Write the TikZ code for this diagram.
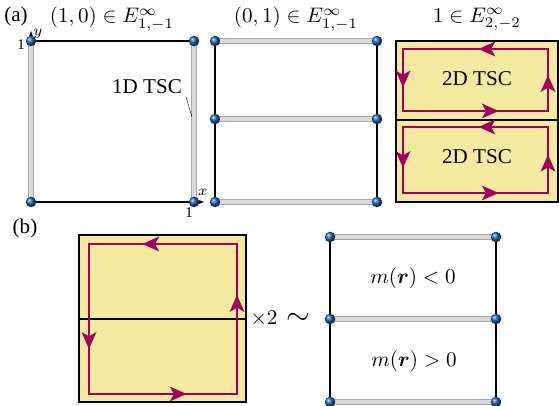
\documentclass[tikz,border=0pt]{standalone}
\usepackage{amsmath,amssymb,bm}
\usepackage{fontspec}
\setmainfont{Liberation Serif}
\usepackage{tikz}
\usetikzlibrary{arrows.meta,calc,positioning}
\definecolor{tscyellow}{RGB}{243,234,160}
\definecolor{edgepurple}{RGB}{160,0,95}
\definecolor{siteblue}{RGB}{20,90,165}

\begin{document}
\begin{tikzpicture}[x=0.0167cm,y=-0.0167cm,
    edge/.style={black, line width=0.75pt},
    tsc/.style={draw=gray!70, line width=0.5pt, double=gray!30, double distance=2.3pt},
    site/.style={circle, ball color=siteblue, inner sep=0pt, minimum size=5pt},
    sheet/.style={fill=tscyellow, draw=black, line width=0.75pt},
    loop/.style={draw=edgepurple, line width=0.9pt},
    flow/.style={draw=edgepurple, line width=0.9pt, -{Stealth[length=8pt,width=7pt,inset=2pt]}}]
        \useasboundingbox (0,0) rectangle (559,406);
        % titles
        \node (lbla) at (16,16) {(a)};
        \node (ttl1) at (112,19) {$(1,0)\in E^{\infty}_{1,-1}$};
        \node (ttl2) at (296,19) {$(0,1)\in E^{\infty}_{1,-1}$};
        \node (ttl3) at (477,19) {$1\in E^{\infty}_{2,-2}$};
        \node (lblb) at (25,228) {(b)};

        % first square: 1D TSC on vertical edges
        \coordinate (L1) at (31,41);
        \coordinate (L2) at (194,41);
        \coordinate (L3) at (31,202);
        \coordinate (L4) at (194,202);
        \draw[edge] (L1) -- (L2);
        \draw[edge] (L3) -- (L4);
        \draw[tsc] (L1) -- (L3);
        \draw[tsc] (L2) -- (L4);
        %axis
        \coordinate (yend) at (31,31);
        \coordinate (xend) at (204,202);
        \draw[-{Latex[length=2.5pt]}, ultra thin] (L1) -- (yend);
        \draw[-{Latex[length=2.5pt]}, ultra thin] (L4) -- (xend);
        \node[font=\scriptsize] (ylab) at (38,34) {$y$};
        \node[font=\scriptsize] (xlab) at (203,192) {$x$};
        \node[font=\scriptsize] (yone) at (21,45) {1};
        \node[font=\scriptsize] (xone) at (189,213) {1};
        \foreach \c in {1,...,4} \node[site] (sL\c) at (L\c) {};
        \node (lab1d) at (147,87) {1D TSC};
        \coordinate (tip1d) at (192,117);
        \draw[very thin] ($(lab1d.south east)+(-3,-4)$) -- (tip1d);

        % second square: 1D TSC on horizontal edges
        \coordinate (M1) at (215,41);
        \coordinate (M2) at (377,41);
        \coordinate (M3) at (215,119);
        \coordinate (M4) at (377,119);
        \coordinate (M5) at (215,202);
        \coordinate (M6) at (377,202);
        \draw[edge] (M1) -- (M5);
        \draw[edge] (M2) -- (M6);
        \draw[tsc] (M1) -- (M2);
        \draw[tsc] (M3) -- (M4);
        \draw[tsc] (M5) -- (M6);
        \foreach \c in {1,...,6} \node[site] (sM\c) at (M\c) {};

        % third square: two 2D TSC layers
        \draw[sheet] (396,41) rectangle (558,202);
        \coordinate (R1) at (396,120);
        \coordinate (R2) at (558,120);
        \draw[edge] (R1) -- (R2);
        \foreach \top/\bot/\n in {49/111/up, 127/193/dn} {
          \coordinate (\n a) at (403,\top);
          \coordinate (\n b) at (548,\top);
          \coordinate (\n c) at (548,\bot);
          \coordinate (\n d) at (403,\bot);
          \draw[loop] (\n a) -- (\n b) -- (\n c) -- (\n d) -- cycle;
          \draw[flow] (\n b) -- ($(\n a)!0.52!(\n b)$);
          \draw[flow] (\n a) -- ($(\n a)!0.62!(\n d)$);
          \draw[flow] (\n d) -- ($(\n d)!0.66!(\n c)$);
          \draw[flow] (\n c) -- ($(\n c)!0.58!(\n b)$);
        }
        \node (tsc2a) at (477,79) {2D TSC};
        \node (tsc2b) at (477,157) {2D TSC};

        % panel (b), left: one loop over two layers
        \draw[sheet] (79,235) rectangle (246,402);
        \coordinate (B1) at (79,319);
        \coordinate (B2) at (246,319);
        \draw[edge] (B1) -- (B2);
        \coordinate (Pa) at (89,244);
        \coordinate (Pb) at (237,244);
        \coordinate (Pc) at (237,394);
        \coordinate (Pd) at (89,394);
        \draw[loop] (Pa) -- (Pb) -- (Pc) -- (Pd) -- cycle;
        \draw[flow] (Pb) -- ($(Pa)!0.36!(Pb)$);
        \draw[flow] (Pa) -- ($(Pa)!0.7!(Pd)$);
        \draw[flow] (Pd) -- ($(Pd)!0.66!(Pc)$);
        \draw[flow] (Pc) -- ($(Pc)!0.66!(Pb)$);
        \node[anchor=west,inner sep=1pt] (times) at (248,319) {$\times 2$};
        \node[anchor=west,inner sep=0pt,font=\Large] (simto) at (286,319) {$\sim$};

        % panel (b), right: mass domain wall
        \coordinate (N1) at (330,237);
        \coordinate (N2) at (496,237);
        \coordinate (N3) at (330,319);
        \coordinate (N4) at (496,319);
        \coordinate (N5) at (330,402);
        \coordinate (N6) at (496,402);
        \draw[edge] (N1) -- (N5);
        \draw[edge] (N2) -- (N6);
        \draw[tsc] (N1) -- (N2);
        \draw[tsc] (N3) -- (N4);
        \draw[tsc] (N5) -- (N6);
        \foreach \c in {1,...,6} \node[site] (sN\c) at (N\c) {};
        \node (mneg) at (413,278) {$m(\bm{r})<0$};
        \node (mpos) at (414,361) {$m(\bm{r})>0$};
\end{tikzpicture}
\end{document}
